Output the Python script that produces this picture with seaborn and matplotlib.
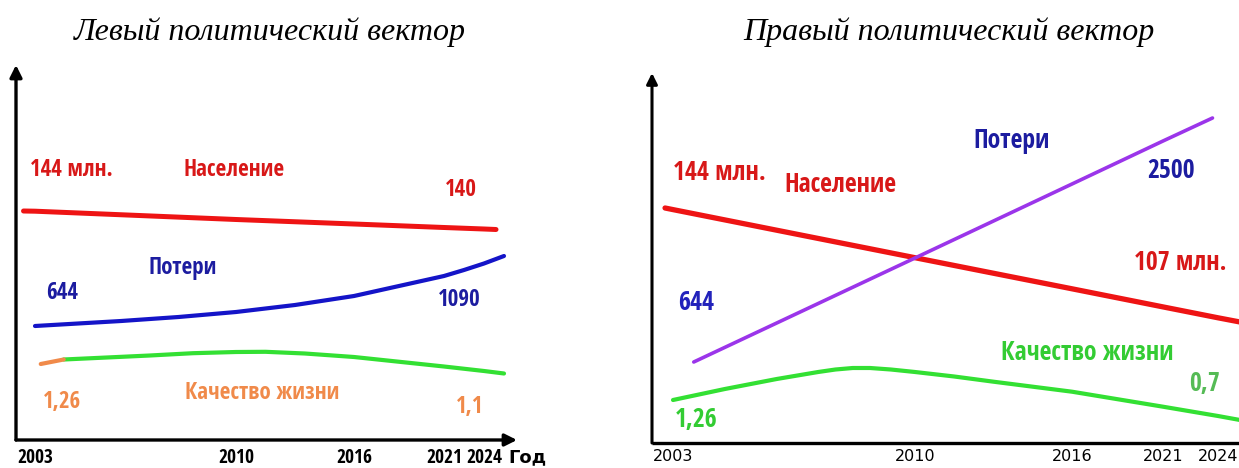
import os
import numpy as np
import pandas as pd
import matplotlib
matplotlib.use("Agg")
import matplotlib.pyplot as plt
import seaborn as sns
from matplotlib import font_manager
from matplotlib.font_manager import FontProperties
from matplotlib.textpath import TextToPath

# ---------------- data ----------------
tick_years = [2003, 2010, 2016, 2021, 2024]
tick_labels = ["2003", "2010", "2016", "2021", "2024"]
axis_label_x = "Год"
titles = ["Левый политический вектор", "Правый политический вектор"]

# Left panel (schematic heights, no y scale in the original)
left_pop_years = [2002.6, 2003, 2010, 2016, 2021, 2024, 2024.9]
left_pop_vals = [229, 228.8, 220.5, 216, 212.5, 211, 210.5]
left_loss_years = [2003, 2006, 2008, 2010, 2013, 2016, 2018.5, 2021, 2022.5, 2024, 2025.5]
left_loss_vals = [114, 119, 123, 128, 135, 144, 154, 164, 170, 176.5, 184]
left_qol_start_years = [2003.2, 2004]
left_qol_start_vals = [76, 80.5]
left_qol_years = [2004, 2007, 2008.5, 2010, 2011.5, 2013.5, 2016, 2021, 2024, 2025.5]
left_qol_vals = [80.5, 84.5, 86.8, 88, 88.2, 86.5, 83, 73.5, 69, 66.5]

# Right panel
right_pop_years = [2002.77, 2003, 2010, 2016, 2021, 2024, 2025.2]
right_pop_vals = [235, 233.4, 185.3, 154.2, 136.1, 125.2, 121]
right_loss_years = [2003.6, 2010, 2016, 2021, 2023.7]
right_loss_vals = [81, 185, 259, 302, 325]
right_qol_years = [2003, 2004.5, 2006, 2007.2, 2007.7, 2008.2, 2008.7, 2009.3, 2010,
                   2011.5, 2013, 2016, 2021, 2024, 2025.2]
right_qol_vals = [43, 54, 64, 71, 73.5, 75, 75, 73.5, 71, 66.5, 61.3, 51.3, 36.3, 27, 23]

left_labels = ["144 млн.", "Население", "140", "Потери", "644", "1090",
               "1,26", "Качество жизни", "1,1"]
right_labels = ["144 млн.", "Население", "644", "1,26", "Потери", "2500",
                "107 млн.", "Качество жизни", "0,7"]

# ---------------- style ----------------
W, H = 1239, 468
DPI = 100
sns.set_theme(style="white")
plt.rcParams["font.family"] = ["DejaVu Sans"]


def _wval(w):
    if isinstance(w, str):
        return font_manager.weight_dict.get(w, 400)
    return w


def find_condensed_bold():
    prefs = ["liberation sans narrow", "arial narrow", "noto sans", "open sans",
             "roboto", "dejavu sans"]
    best = None
    for f in font_manager.fontManager.ttflist:
        n = (f.name + " " + os.path.basename(f.fname)).lower()
        is_cond = ("narrow" in n or "condensed" in n or f.stretch == "condensed")
        if not is_cond:
            continue
        if "extra" in n or "ultra" in n or "semi" in n or "italic" in n or "oblique" in n:
            continue
        if not (_wval(f.weight) >= 700 or "bold" in n):
            continue
        if "extrabold" in n or "black" in n:
            continue
        rank = len(prefs)
        for i, p in enumerate(prefs):
            if p in n:
                rank = i
                break
        if best is None or rank < best[0]:
            best = (rank, f.fname)
    return best[1] if best else None


cond_path = find_condensed_bold()


def cprop(size):
    if cond_path:
        return FontProperties(fname=cond_path, size=size)
    return FontProperties(family="Liberation Sans", weight="bold", size=size)


_ttp = TextToPath()


def fit_size(s, target_px, base=10.0):
    w, h, d = _ttp.get_text_width_height_descent(s, cprop(base), ismath=False)
    w_px = w * DPI / 72.0
    return base * target_px / w_px


RED = "#ee1414"
RED_T = "#d81818"
BLUE = "#1414c8"
BLUE_T = "#1c1ca0"
GREEN = "#33e033"
GREEN_T = "#33cc33"
ORANGE = "#f08a4a"
PURPLE = "#9b35ea"


def piecewise(xs, ys):
    xs = np.asarray(xs, float)
    ys = np.asarray(ys, float)

    def f(v):
        v = np.asarray(v, float)
        out = np.interp(v, xs, ys)
        lo_s = (ys[1] - ys[0]) / (xs[1] - xs[0])
        hi_s = (ys[-1] - ys[-2]) / (xs[-1] - xs[-2])
        out = np.where(v < xs[0], ys[0] + (v - xs[0]) * lo_s, out)
        out = np.where(v > xs[-1], ys[-1] + (v - xs[-1]) * hi_s, out)
        return out
    return f


def make_axes(fig, px_left, px_right, py_bottom, py_top, tick_px, ymax, pad):
    ax = fig.add_axes([px_left / W, 1 - py_bottom / H,
                       (px_right - px_left) / W, (py_bottom - py_top) / H])
    fwd = piecewise(tick_years, tick_px)
    inv = piecewise(tick_px, tick_years)
    ax.set_xscale("function", functions=(fwd, inv))
    ax.set_xlim(float(inv(px_left)), float(inv(px_right)))
    ax.set_ylim(0, ymax)
    for s in ax.spines.values():
        s.set_visible(False)
    ax.set_yticks([])
    ax.set_xticks(tick_years)
    ax.set_xticklabels(tick_labels)
    ax.tick_params(axis="x", length=0, pad=pad)
    ax.set_xlabel("")
    ax.set_ylabel("")
    ax.patch.set_alpha(0)
    return ax


def line(ax, xs, ys, color, lw):
    sns.lineplot(x=xs, y=ys, ax=ax, color=color, linewidth=lw,
                 sort=False, estimator=None, solid_capstyle="round",
                 solid_joinstyle="round")


fig = plt.figure(figsize=(W / DPI, H / DPI), dpi=DPI)
fig.patch.set_facecolor("white")

# ---------- left panel ----------
axL = make_axes(fig, 16, 517, 440, 65, [35, 236, 354, 444, 484], 375, 6)
line(axL, left_pop_years, left_pop_vals, RED, 3.6)
line(axL, left_loss_years, left_loss_vals, BLUE, 3.0)
line(axL, left_qol_years, left_qol_vals, GREEN, 3.0)
line(axL, left_qol_start_years, left_qol_start_vals, ORANGE, 3.0)
axL.annotate("", xy=(0, 1), xytext=(0, 0), xycoords="axes fraction",
             arrowprops=dict(arrowstyle="-|>", lw=2.4, color="black",
                             mutation_scale=18, shrinkA=0, shrinkB=0))
axL.annotate("", xy=(1, 0), xytext=(0, 0), xycoords="axes fraction",
             arrowprops=dict(arrowstyle="-|>", lw=2.4, color="black",
                             mutation_scale=18, shrinkA=0, shrinkB=0))
tick_size_L = min(fit_size("2003", 36), 15)
for t in axL.get_xticklabels():
    t.set_fontproperties(cprop(tick_size_L))
    t.set_color("black")

# ---------- right panel ----------
axR = make_axes(fig, 652, 1239, 443, 73, [673, 915, 1072, 1163, 1218], 370, 4)
line(axR, right_qol_years, right_qol_vals, GREEN, 3.0)
line(axR, right_pop_years, right_pop_vals, RED, 3.8)
line(axR, right_loss_years, right_loss_vals, PURPLE, 2.6)
axR.annotate("", xy=(0, 1), xytext=(0, 0), xycoords="axes fraction",
             arrowprops=dict(arrowstyle="-|>", lw=2.2, color="black",
                             mutation_scale=16, shrinkA=0, shrinkB=0))
axR.plot([0, 1], [0, 0], transform=axR.transAxes, color="black", lw=2.4,
         clip_on=False, solid_capstyle="butt")
for t in axR.get_xticklabels():
    t.set_fontfamily("DejaVu Sans")
    t.set_fontsize(11.5)
    t.set_color("black")

# ---------- texts ----------
def ftxt(x, y, s, color, prop):
    fig.text(x / W, 1 - y / H, s, color=color, fontproperties=prop,
             ha="center", va="center")


fig.text(270 / W, 1 - 32 / H, titles[0], family="Liberation Serif", style="italic",
         fontsize=23, ha="center", va="center", color="black")
fig.text(949 / W, 1 - 32 / H, titles[1], family="Liberation Serif", style="italic",
         fontsize=23, ha="center", va="center", color="black")

fig.text(527 / W, 1 - 457 / H, axis_label_x, color="black",
         family="DejaVu Sans", fontweight="bold", fontsize=13,
         ha="center", va="center")

size_L = min(fit_size("Качество жизни", 154), 17)
size_R = min(fit_size("Качество жизни", 173), 19)

lpos = [(71, 170), (234, 170), (461, 190), (183, 268), (62, 293), (459, 300),
        (62, 402), (262, 393), (470, 407)]
lcol = [RED_T, RED_T, RED_T, BLUE_T, BLUE_T, BLUE_T, ORANGE, ORANGE, ORANGE]
for (x, y), s, c in zip(lpos, left_labels, lcol):
    ftxt(x, y, s, c, cprop(size_L))

rpos = [(719, 173), (840, 185), (696, 302), (696, 420), (1012, 140),
        (1171, 170), (1180, 262), (1087, 352), (1204, 383)]
rcol = [RED_T, RED_T, "#2222bb", GREEN_T, BLUE_T, BLUE_T, RED_T, GREEN_T, "#55bb55"]
for (x, y), s, c in zip(rpos, right_labels, rcol):
    ftxt(x, y, s, c, cprop(size_R))

fig.savefig("out.png", dpi=DPI, facecolor="white")
